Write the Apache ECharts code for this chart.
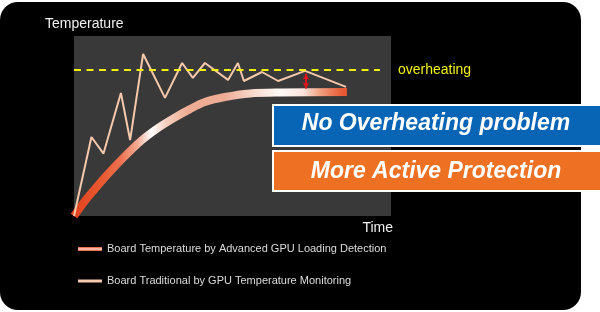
<!DOCTYPE html>
<html>
<head>
<meta charset="utf-8">
<script src="https://cdn.jsdelivr.net/npm/echarts@6/dist/echarts.min.js"></script>
<style>
html,body{margin:0;padding:0;background:#fff;}
#c{width:600px;height:312px;}
</style>
</head>
<body>
<div id="c"></div>
<script>
// ---- data (time and temperature on a 0-100 scale) ----
const advName = 'Board Temperature by Advanced GPU Loading Detection';
const tradName = 'Board Traditional by GPU Temperature Monitoring';
const timeAdv = [0, 3.2, 6.3, 10.4, 15.8, 21.1, 26.5, 31.5, 36.6, 41.3, 47.6, 55.5, 65.0, 86.1];
const tempAdv = [0, 7.8, 14.4, 22.8, 32.8, 41.7, 48.9, 54.4, 59.4, 63.3, 66.1, 68.1, 68.6, 68.9];
const timeTrad = [0, 5.5, 9.3, 14.8, 17.7, 21.8, 28.7, 34.1, 37.5, 41.3, 48.6, 51.7, 53.6, 59.3, 64.4, 72.9, 85.8];
const tempTrad = [0, 43.9, 34.7, 68.3, 42.2, 90.0, 65.6, 85.0, 76.7, 85.0, 75.6, 85.0, 75.0, 80.0, 75.0, 80.6, 71.7];
const overheatLevel = [81];
const overheatSpan = [0, 96.5];
const gapArrowTime = [73.2];
const gapArrowTemp = [79.0, 70.8];
const axisTitles = ['Time', 'Temperature'];
const overheatLabel = 'overheating';
const boxTexts = ['No Overheating problem', 'More Active Protection'];

const FONT = '"Liberation Sans", Arial, Helvetica, sans-serif';
const chart = echarts.init(document.getElementById('c'));

const bandGradient = new echarts.graphic.LinearGradient(0, 0, 1, 0, [
  {offset: 0, color: '#e2401e'},
  {offset: 0.11, color: '#e8582f'},
  {offset: 0.18, color: '#ec7252'},
  {offset: 0.24, color: '#f4aa92'},
  {offset: 0.29, color: '#ffffff'},
  {offset: 0.34, color: '#f6d0c0'},
  {offset: 0.42, color: '#eeac94'},
  {offset: 0.55, color: '#eeac94'},
  {offset: 0.66, color: '#f8dcd0'},
  {offset: 0.75, color: '#fffaf8'},
  {offset: 0.83, color: '#fbe4dc'},
  {offset: 0.89, color: '#f0a080'},
  {offset: 0.96, color: '#e8603c'},
  {offset: 1, color: '#e64a2a'}
]);
const legendGradient = new echarts.graphic.LinearGradient(0, 0, 0, 1, [
  {offset: 0, color: '#e8502e'},
  {offset: 0.5, color: '#ffd6c6'},
  {offset: 1, color: '#e8502e'}
]);

const zip = (a, b) => a.map((v, i) => [v, b[i]]);

const legendCommon = {
  orient: 'vertical', left: 78, padding: 0, itemGap: 0, itemWidth: 24,
  selectedMode: false,
  textStyle: {color: '#dcdcdc', fontSize: 11, fontFamily: FONT, lineHeight: 12}
};

chart.setOption({
  animation: false,
  grid: {left: 74, right: 209, top: 36, bottom: 96, show: true, backgroundColor: '#393939', borderWidth: 0},
  xAxis: {type: 'value', min: 0, max: 100, show: false},
  yAxis: {type: 'value', min: 0, max: 100, show: false},
  legend: [
    Object.assign({}, legendCommon, {top: 243, itemHeight: 4,
      data: [{name: advName, icon: 'rect', itemStyle: {color: legendGradient, borderWidth: 0}}]}),
    Object.assign({}, legendCommon, {top: 275, itemHeight: 3,
      data: [{name: tradName, icon: 'rect', itemStyle: {color: '#f6c8ac', borderWidth: 0}}]})
  ],
  series: [
    {
      name: advName, type: 'line', data: zip(timeAdv, tempAdv), smooth: 0.3,
      symbol: 'none', z: 2,
      lineStyle: {width: 8, color: bandGradient, cap: 'butt'},
      itemStyle: {color: '#e8502e'}
    },
    {
      name: tradName, type: 'line', data: zip(timeTrad, tempTrad),
      symbol: 'none', z: 3,
      lineStyle: {width: 2, color: '#f6c8ac'},
      itemStyle: {color: '#f6c8ac'},
      markLine: {
        silent: true, symbol: ['arrow', 'arrow'], symbolSize: [5, 6],
        lineStyle: {color: '#e0161c', width: 2, type: 'solid'},
        label: {show: false},
        data: [[{coord: [gapArrowTime[0], gapArrowTemp[0]]}, {coord: [gapArrowTime[0], gapArrowTemp[1]]}]]
      }
    },
    {
      name: 'overheat', type: 'line', data: [], z: 1,
      markLine: {
        silent: true, symbol: 'none',
        lineStyle: {color: '#f2f200', width: 2, type: [7, 5.5]},
        label: {show: true, position: 'end', distance: 18, formatter: overheatLabel,
          color: '#f0f010', fontSize: 14, fontFamily: FONT},
        data: [[{coord: [overheatSpan[0], overheatLevel[0]]}, {coord: [overheatSpan[1], overheatLevel[0]]}]]
      }
    }
  ],
  graphic: [
    {type: 'rect', z: -10, shape: {x: 0, y: 2, width: 581, height: 308, r: 18}, style: {fill: '#000'}},
    {type: 'text', z: 5, x: 45, y: 24, style: {text: axisTitles[1], fill: '#f0f0f0', font: '14px ' + FONT, textVerticalAlign: 'middle'}},
    {type: 'text', z: 5, x: 393, y: 228.5, style: {text: axisTitles[0], fill: '#f0f0f0', font: '14px ' + FONT, textAlign: 'right', textVerticalAlign: 'middle'}},
    {type: 'rect', z: 10, shape: {x: 273, y: 105, width: 340, height: 41}, style: {fill: '#0864b4', stroke: '#ffffff', lineWidth: 2}},
    {type: 'text', z: 11, x: 436, y: 124, style: {text: boxTexts[0], fill: '#ffffff', font: 'italic bold 23px ' + FONT, textAlign: 'center', textVerticalAlign: 'middle'}},
    {type: 'rect', z: 10, shape: {x: 273, y: 151, width: 340, height: 40}, style: {fill: '#ee7022', stroke: '#ffffff', lineWidth: 2}},
    {type: 'text', z: 11, x: 436, y: 172, style: {text: boxTexts[1], fill: '#ffffff', font: 'italic bold 23px ' + FONT, textAlign: 'center', textVerticalAlign: 'middle'}}
  ]
});
</script>
</body>
</html>
